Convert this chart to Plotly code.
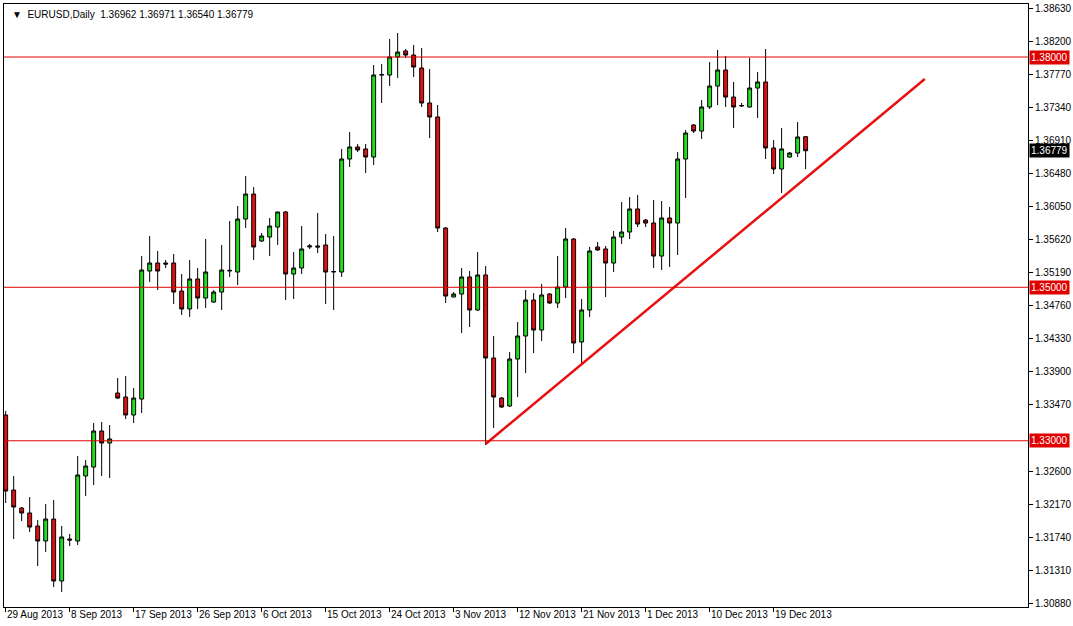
import plotly.graph_objects as go

opens = [1.33336,1.32358,1.32124,1.32059,1.31889,1.31694,1.31980,1.31173,1.31720,1.31694,1.32541,1.32658,1.33127,1.32971,1.33622,1.33570,1.33336,1.33544,1.35212,1.35316,1.35316,1.35316,1.34951,1.34717,1.35108,1.34860,1.34808,1.34938,1.35212,1.35199,1.35889,1.36215,1.35603,1.35655,1.35785,1.35981,1.35173,1.35251,1.35525,1.35538,1.35551,1.35199,1.35199,1.36671,1.36828,1.36802,1.36697,1.37766,1.37766,1.38000,1.38079,1.38026,1.37857,1.37401,1.37219,1.35772,1.34873,1.34912,1.35134,1.34704,1.35160,1.34078,1.33557,1.33453,1.34065,1.34365,1.34834,1.34443,1.34912,1.34795,1.35003,1.35629,1.34287,1.34704,1.35525,1.35499,1.35316,1.35655,1.35720,1.36020,1.35876,1.35837,1.35407,1.35903,1.35837,1.36671,1.37114,1.37036,1.37349,1.37622,1.37831,1.37479,1.37362,1.37349,1.37596,1.37675,1.36815,1.36541,1.36697,1.36749,1.36962]
highs = [1.33388,1.32541,1.32137,1.32267,1.31967,1.32176,1.32228,1.31889,1.31785,1.32801,1.32749,1.33231,1.33244,1.33205,1.33818,1.33844,1.33687,1.35407,1.35668,1.35473,1.35355,1.35433,1.35173,1.35355,1.35251,1.35629,1.34964,1.35551,1.35863,1.36059,1.36450,1.36306,1.35707,1.35903,1.35981,1.35994,1.35459,1.35798,1.35564,1.35968,1.35694,1.35668,1.36802,1.37023,1.36867,1.36867,1.37896,1.37909,1.38235,1.38313,1.38105,1.38157,1.38118,1.37844,1.37375,1.35785,1.34938,1.35251,1.35212,1.35459,1.35277,1.34365,1.33570,1.34156,1.34547,1.34964,1.34925,1.35043,1.34925,1.35407,1.35772,1.35640,1.34847,1.35525,1.35590,1.35538,1.35733,1.36111,1.36176,1.36202,1.35889,1.36137,1.36124,1.36046,1.36762,1.37049,1.37127,1.37440,1.37935,1.38092,1.38013,1.37675,1.37401,1.37987,1.37805,1.38105,1.36919,1.37075,1.36762,1.37153,1.36971]
lows = [1.32189,1.31720,1.31954,1.31811,1.31368,1.31550,1.31094,1.31029,1.31629,1.31642,1.32280,1.32423,1.32541,1.32515,1.33544,1.33283,1.33231,1.33362,1.35069,1.34964,1.35251,1.34782,1.34639,1.34613,1.34717,1.34730,1.34795,1.34704,1.35134,1.35029,1.35772,1.35355,1.35590,1.35407,1.35551,1.34834,1.34847,1.35173,1.35499,1.35446,1.34782,1.34704,1.35134,1.36567,1.36762,1.36489,1.36593,1.37401,1.37622,1.37727,1.37987,1.37740,1.37349,1.36945,1.35720,1.34795,1.34873,1.34404,1.34482,1.34691,1.32945,1.33166,1.33427,1.33440,1.33570,1.33883,1.34143,1.34300,1.34782,1.34730,1.34860,1.34143,1.33987,1.34613,1.35473,1.34873,1.35199,1.35564,1.35629,1.35785,1.35785,1.35251,1.35225,1.35264,1.35420,1.36163,1.37010,1.36932,1.37323,1.37375,1.37349,1.37075,1.37349,1.37340,1.37206,1.36671,1.36476,1.36228,1.36690,1.36697,1.36540]
closes = [1.32345,1.32137,1.32059,1.31876,1.31694,1.31980,1.31173,1.31746,1.31707,1.32554,1.32671,1.33127,1.32971,1.33023,1.33557,1.33336,1.33557,1.35225,1.35316,1.35212,1.35303,1.34938,1.34717,1.35108,1.34860,1.35199,1.34938,1.35225,1.35220,1.35889,1.36215,1.35525,1.35668,1.35798,1.35981,1.35173,1.35251,1.35499,1.35538,1.35525,1.35199,1.35205,1.36671,1.36828,1.36789,1.36697,1.37766,1.37770,1.38000,1.38065,1.38026,1.37870,1.37401,1.37219,1.35772,1.34886,1.34912,1.35134,1.34704,1.35160,1.34078,1.33570,1.33440,1.34065,1.34365,1.34834,1.34443,1.34899,1.34795,1.35003,1.35629,1.34274,1.34704,1.35473,1.35486,1.35316,1.35655,1.35720,1.36020,1.35824,1.35837,1.35407,1.35903,1.35837,1.36671,1.37010,1.37036,1.37349,1.37622,1.37831,1.37479,1.37349,1.37368,1.37596,1.37675,1.36815,1.36541,1.36802,1.36749,1.36958,1.36779]

date_labels = ["29 Aug 2013","8 Sep 2013","17 Sep 2013","26 Sep 2013","6 Oct 2013","15 Oct 2013",
               "24 Oct 2013","3 Nov 2013","12 Nov 2013","21 Nov 2013","1 Dec 2013","10 Dec 2013","19 Dec 2013"]
y_ticks = [1.38630,1.38200,1.37770,1.37340,1.36910,1.36480,1.36050,1.35620,1.35190,1.34760,
           1.34330,1.33900,1.33470,1.32600,1.32170,1.31740,1.31310,1.30880]
levels = [1.38000,1.35000,1.33000]
trend_x = [60, 114.9]
trend_y = [1.32958, 1.37714]
last_price = 1.36779

x = list(range(len(opens)))
FONT = "Liberation Sans"
fig = go.Figure()
fig.add_trace(go.Candlestick(
    x=x, open=opens, high=highs, low=lows, close=closes,
    increasing=dict(fillcolor="#22dd22", line=dict(color="#000000", width=1)),
    decreasing=dict(fillcolor="#dd1111", line=dict(color="#000000", width=1)),
    whiskerwidth=0, showlegend=False, hoverinfo="skip"))
for lv in levels:
    fig.add_shape(type="line", xref="paper", x0=0, x1=1, y0=lv, y1=lv,
                  line=dict(color="#e00000", width=1))
fig.add_trace(go.Scatter(x=trend_x, y=trend_y, mode="lines",
                         line=dict(color="#e81010", width=2.5), showlegend=False, hoverinfo="skip"))

tickvals = [i * 8 for i in range(len(date_labels))]
for tv, lab in zip(tickvals, date_labels):
    fig.add_annotation(x=tv - 0.1, y=0, xref="x", yref="paper", yanchor="top", xanchor="left",
                       text=lab, showarrow=False, yshift=0, font=dict(family=FONT, size=10, color="#000"))
for lv, bg in [(1.38, "#e00000"), (1.35, "#e00000"), (1.33, "#e00000"), (last_price, "#000000")]:
    fig.add_annotation(x=1, y=lv, xref="paper", yref="y", xanchor="left", text=f"{lv:.5f}",
                       showarrow=False, bgcolor=bg, xshift=1, borderpad=1,
                       font=dict(family=FONT, size=10, color="#fff"))
fig.add_annotation(x=0, y=1, xref="paper", yref="paper", xanchor="left", yanchor="top",
                   xshift=6, yshift=-3, showarrow=False,
                   text="▼  EURUSD,Daily  1.36962 1.36971 1.36540 1.36779",
                   font=dict(family=FONT, size=10, color="#000"))

fig.update_layout(
    width=1073, height=626, margin=dict(l=4, r=45, t=4, b=19, autoexpand=False),
    paper_bgcolor="#ffffff", plot_bgcolor="#ffffff",
    xaxis=dict(range=[-0.21, 127.8], rangeslider=dict(visible=False), showgrid=False,
               zeroline=False, tickvals=tickvals, ticktext=[""] * len(tickvals),
               ticks="outside", ticklen=4, tickcolor="#000", showline=True, linecolor="#000",
               mirror=True),
    yaxis=dict(range=[1.30834, 1.38691], side="right", showgrid=False, zeroline=False,
               tickvals=y_ticks, ticktext=[f"{v:.5f}" for v in y_ticks], ticks="outside",
               ticklen=4, tickcolor="#000", showline=True, linecolor="#000", mirror=True,
               tickfont=dict(family=FONT, size=10, color="#000")),
)
fig.write_html("out.html", config={"displayModeBar": False},
               post_script="document.body.style.margin='0';document.body.style.overflow='hidden';")
